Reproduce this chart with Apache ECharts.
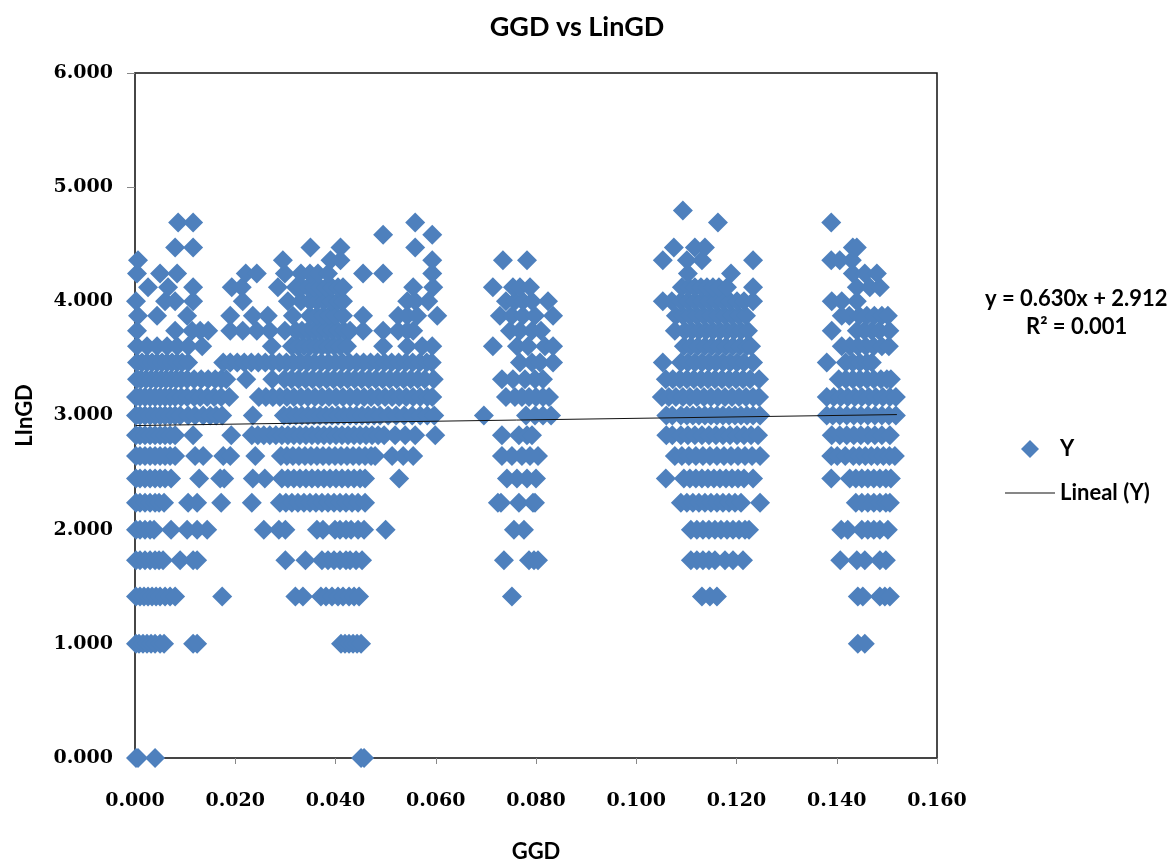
<!DOCTYPE html>
<html><head><meta charset="utf-8">
<style>html,body{margin:0;padding:0;background:#fff}#c{width:1176px;height:859px}</style>
<script src="https://cdn.jsdelivr.net/npm/echarts@6/dist/echarts.min.js"></script>
</head><body><div id="c"></div>
<script>
const row_0_000=[.0002,.0006,.004,.0451,.0457];
const row_1_000=[.0002,.0008,.0016,.0024,.0032,.004,.005,.0058,.0116,.0124,.0411,.0419,.0427,.0435,.0443,.0451,.1442,.1456];
const row_1_414=[.0002,.001,.0018,.0026,.0034,.0042,.005,.006,.007,.008,.0174,.032,.0335,.0371,.0381,.0393,.0405,.0415,.0427,.0437,.0447,.0752,.1131,.1147,.1161,.1442,.1452,.1486,.1496,.1506];
const row_1_732=[.0002,.001,.002,.003,.004,.0048,.0056,.009,.0116,.0124,.03,.034,.0373,.0385,.0397,.0409,.0421,.0429,.0441,.0453,.0736,.0786,.0796,.0804,.1109,.1121,.1133,.1145,.1157,.1177,.1193,.1213,.1407,.144,.1456,.1486,.1498];
const row_2_000=[.0002,.001,.002,.003,.0038,.0072,.0104,.0124,.0144,.0257,.0287,.03,.0363,.0375,.0399,.0409,.0421,.0431,.0445,.0457,.05,.0756,.0776,.1109,.1121,.1133,.1145,.1157,.1169,.1181,.1193,.1205,.1217,.1225,.1409,.1422,.145,.1462,.1474,.1486,.1502];
const row_2_236=[.0002,.001,.002,.003,.004,.0048,.0058,.0106,.0124,.0172,.0233,.0289,.0301,.0313,.0325,.0337,.0349,.0361,.0373,.0385,.0397,.0409,.0421,.0433,.0445,.0459,.0724,.073,.0766,.0794,.0798,.1089,.1101,.1113,.1125,.1137,.1149,.1161,.1173,.1185,.1197,.1209,.1247,.1438,.145,.1462,.1474,.1486,.1498,.1506];
const row_2_449=[.0002,.001,.002,.003,.004,.005,.006,.0072,.0128,.017,.0178,.0235,.0259,.0293,.0305,.0317,.0329,.0341,.0353,.0365,.0377,.0389,.0401,.0413,.0425,.0437,.0449,.0459,.0527,.0742,.0762,.0782,.08,.1059,.1095,.1107,.1119,.1131,.1143,.1155,.1167,.1179,.1191,.1203,.1215,.1233,.1389,.1426,.1438,.145,.1462,.1474,.1486,.1498,.1508];
const row_2_646=[.0002,.001,.002,.003,.004,.005,.006,.007,.008,.012,.0136,.0176,.019,.024,.0291,.0303,.0315,.0327,.0339,.0351,.0363,.0375,.0387,.0399,.0411,.0423,.0435,.0447,.0459,.0471,.0479,.0513,.0535,.0555,.0732,.0752,.0772,.0788,.0804,.1077,.1091,.1105,.1119,.1133,.1147,.1161,.1175,.1189,.1203,.1217,.1231,.1247,.1389,.1401,.1417,.1433,.1445,.1457,.1469,.1481,.1493,.1505,.1516];
const row_2_828=[.0002,.001,.002,.003,.004,.005,.006,.007,.008,.0116,.0192,.0233,.0245,.0257,.0269,.0281,.0293,.0305,.0317,.0329,.0341,.0353,.0365,.0377,.0389,.0401,.0413,.0425,.0437,.0449,.0461,.0473,.0485,.0497,.0519,.0539,.0559,.0599,.0732,.0766,.0782,.0792,.106,.1072,.1089,.1103,.1117,.1131,.1145,.1159,.1173,.1187,.1201,.1215,.1229,.1243,.139,.1406,.142,.1434,.1448,.1462,.1476,.149,.1506];
const row_3_000=[.0002,.001,.002,.003,.004,.005,.006,.007,.008,.009,.0106,.012,.0136,.015,.0162,.0174,.0235,.0297,.0309,.0321,.0333,.0345,.0357,.0369,.0381,.0393,.0405,.0417,.0429,.0441,.0453,.0465,.0477,.0489,.0505,.0521,.0537,.0553,.0569,.0583,.0597,.0696,.078,.0798,.0814,.083,.106,.1072,.1089,.1101,.1113,.1125,.1137,.1149,.1161,.1173,.1185,.1197,.1209,.1221,.1233,.1247,.138,.1392,.1406,.142,.1434,.1448,.1462,.1476,.149,.1504,.1518];
const row_3_162=[.0002,.001,.002,.003,.004,.005,.006,.007,.008,.0092,.0104,.0118,.013,.0144,.0158,.0172,.0188,.0247,.0261,.0275,.0289,.0303,.0317,.0331,.0345,.0359,.0373,.0387,.0401,.0415,.0429,.0443,.0457,.0471,.0485,.0499,.0513,.0527,.0541,.0555,.0569,.0583,.0593,.074,.0758,.0772,.0786,.08,.0814,.0826,.1051,.1065,.1079,.1093,.1107,.1121,.1135,.1149,.1163,.1177,.1191,.1205,.1219,.1233,.1245,.138,.1394,.1408,.1422,.1436,.145,.1464,.1478,.1492,.1506,.1518];
const row_3_317=[.0004,.0012,.0022,.0032,.0042,.0052,.0062,.0072,.0082,.0092,.0104,.0118,.0132,.0146,.016,.0172,.0182,.0222,.0274,.0298,.0312,.0326,.034,.0354,.0368,.0382,.0396,.041,.0424,.0438,.0452,.0466,.048,.0494,.0508,.0522,.0536,.055,.0564,.0578,.0596,.0732,.0754,.0778,.0798,.0814,.1059,.1073,.1087,.1101,.1115,.1129,.1143,.1157,.1171,.1185,.1199,.1213,.1227,.1245,.1404,.1418,.1432,.1446,.146,.1474,.1488,.15,.1508];
const row_3_464=[.0004,.0014,.0024,.0034,.0044,.0054,.0064,.0074,.0084,.0094,.0106,.0176,.019,.0204,.0218,.0232,.0246,.026,.0274,.0288,.0302,.0316,.033,.0344,.0358,.0372,.0386,.04,.0414,.0428,.0442,.0456,.047,.0484,.0498,.0512,.0526,.054,.0554,.0568,.0582,.0592,.0768,.0792,.0808,.0834,.1053,.1089,.1103,.1117,.1131,.1145,.1159,.1173,.1187,.1201,.1215,.1233,.138,.1418,.1432,.1446,.146,.147];
const row_3_606=[.0004,.0024,.0044,.0064,.0084,.0106,.0134,.0273,.0313,.0325,.0337,.0349,.0361,.0373,.0385,.0397,.0409,.0423,.0495,.0543,.0573,.0593,.0714,.0762,.0784,.0818,.0834,.1095,.1109,.1123,.1137,.1151,.1165,.1179,.1193,.1207,.1221,.1229,.141,.1426,.1442,.1458,.1474,.149,.1504];
const row_3_742=[.0004,.008,.0114,.013,.0146,.019,.0215,.0243,.0269,.0299,.0321,.0333,.0345,.0357,.0369,.0381,.0393,.0405,.0417,.0429,.0455,.0495,.0525,.0543,.0555,.0748,.0768,.0792,.081,.1077,.1097,.1111,.1125,.1139,.1153,.1167,.1181,.1195,.1209,.1223,.139,.144,.1455,.147,.1485,.1505];
const row_3_873=[.0006,.0044,.0104,.019,.0235,.0265,.0315,.0349,.0363,.0375,.0387,.0399,.0415,.0455,.0525,.0543,.0563,.0603,.0728,.0752,.0774,.0798,.0834,.1079,.1093,.1107,.1121,.1135,.1149,.1163,.1177,.1191,.1205,.1219,.141,.1425,.1445,.146,.1475,.149,.1502];
const row_4_000=[.0002,.006,.008,.0116,.0215,.0305,.0331,.0349,.0363,.0377,.0391,.0405,.0415,.0543,.0559,.0585,.074,.0758,.0774,.0792,.0824,.1053,.1071,.1089,.1103,.1117,.1131,.1145,.1159,.1173,.1187,.1201,.1215,.1233,.139,.141,.144];
const row_4_123=[.0026,.0066,.0116,.0193,.0213,.0285,.0321,.0333,.0345,.0357,.0369,.0381,.0393,.0405,.0415,.0555,.0595,.0714,.0754,.0768,.0788,.1091,.1105,.1117,.1129,.1141,.1153,.1165,.1181,.1233,.144,.1466,.1486];
const row_4_243=[.0004,.005,.0084,.0221,.0243,.0299,.0331,.0349,.0365,.0385,.0455,.0495,.0593,.1103,.1189,.1432,.1456,.148];
const row_4_359=[.0006,.0295,.039,.041,.0593,.0734,.0782,.1053,.1101,.1131,.1233,.1389,.1406,.143];
const row_4_472=[.008,.0116,.035,.041,.0559,.1075,.1117,.1137,.1432,.144];
const row_4_583=[.0495,.0593];
const row_4_690=[.0086,.0116,.0559,.1163,.1389];
const row_4_796=[.1093];

const levels=[0,1,1.414,1.732,2,2.236,2.449,2.646,2.828,3,3.162,3.317,3.464,3.606,3.742,3.873,4,4.123,4.243,4.359,4.472,4.583,4.69,4.796];
const rows=[row_0_000,row_1_000,row_1_414,row_1_732,row_2_000,row_2_236,row_2_449,row_2_646,row_2_828,row_3_000,row_3_162,row_3_317,row_3_464,row_3_606,row_3_742,row_3_873,row_4_000,row_4_123,row_4_243,row_4_359,row_4_472,row_4_583,row_4_690,row_4_796];
const trendLine=[[0.0002,2.912],[0.152,3.008]];
const titleText='GGD vs LinGD', xName='GGD', yName='LInGD';
const equation1='y = 0.630x + 2.912', equation2='R² = 0.001';

const points=[];
rows.forEach((r,i)=>r.forEach(x=>points.push([x,levels[i]])));
const sans='Lato, "Open Sans", sans-serif';
const serif='"DejaVu Serif", serif';
const legendText={fontFamily:sans,fontWeight:'bold',fontSize:22,color:'#000'};
const chart=echarts.init(document.getElementById('c'),null,{renderer:'canvas'});
chart.setOption({
  animation:false,backgroundColor:'#fff',
  title:{text:titleText,left:572,top:9,textAlign:'center',textStyle:{fontFamily:sans,fontWeight:'bold',fontSize:27,color:'#000'}},
  grid:{left:135,top:73,width:802,height:685,outerBoundsMode:'none',containLabel:false,show:true,borderColor:'#111',borderWidth:1.5,backgroundColor:'#fff'},
  legend:[
    {left:1016,top:433,padding:5,itemWidth:18,itemHeight:18,
      textStyle:Object.assign({},legendText,{padding:[0,0,0,16]}),
      data:[{name:'Y',icon:'diamond'}]},
    {left:1000,top:477,padding:5,itemWidth:50,itemHeight:1,
      textStyle:legendText,itemStyle:{color:'#111'},
      data:[{name:'Lineal (Y)',icon:'rect'}]}
  ],
  xAxis:{type:'value',min:0,max:0.16,interval:0.02,name:xName,nameLocation:'middle',nameGap:83,
    nameTextStyle:{fontFamily:sans,fontWeight:'bold',fontSize:22,color:'#000'},
    splitLine:{show:false},axisLine:{onZero:false,lineStyle:{color:'#444',width:1.5}},
    axisTick:{length:6,lineStyle:{color:'#888'}},
    axisLabel:{formatter:v=>v.toFixed(3),margin:34,fontFamily:serif,fontWeight:'bold',fontSize:19,color:'#000'}},
  yAxis:{type:'value',min:0,max:6,interval:1,name:yName,nameLocation:'middle',nameGap:99,
    nameTextStyle:{fontFamily:sans,fontWeight:'bold',fontSize:22,color:'#000'},
    splitLine:{show:false},axisLine:{onZero:false,lineStyle:{color:'#444',width:1.5}},
    axisTick:{length:8,lineStyle:{color:'#888'}},
    axisLabel:{formatter:v=>v.toFixed(3),margin:22,fontFamily:serif,fontWeight:'bold',fontSize:19,color:'#000'}},
  series:[
    {name:'Y',type:'scatter',symbol:'diamond',symbolSize:20,clip:false,data:points,itemStyle:{color:'#4e80bd',opacity:1},z:2},
    {name:'Lineal (Y)',type:'line',symbol:'none',data:trendLine,lineStyle:{color:'#111',width:1},itemStyle:{color:'#111'},z:3}
  ],
  graphic:[
    {type:'text',left:985,top:288,style:{text:equation1,fontFamily:sans,fontWeight:'bold',fontSize:22,fill:'#000'}},
    {type:'text',left:1026,top:316,style:{text:equation2,fontFamily:sans,fontWeight:'bold',fontSize:22,fill:'#000'}}
  ]
});
</script></body></html>
